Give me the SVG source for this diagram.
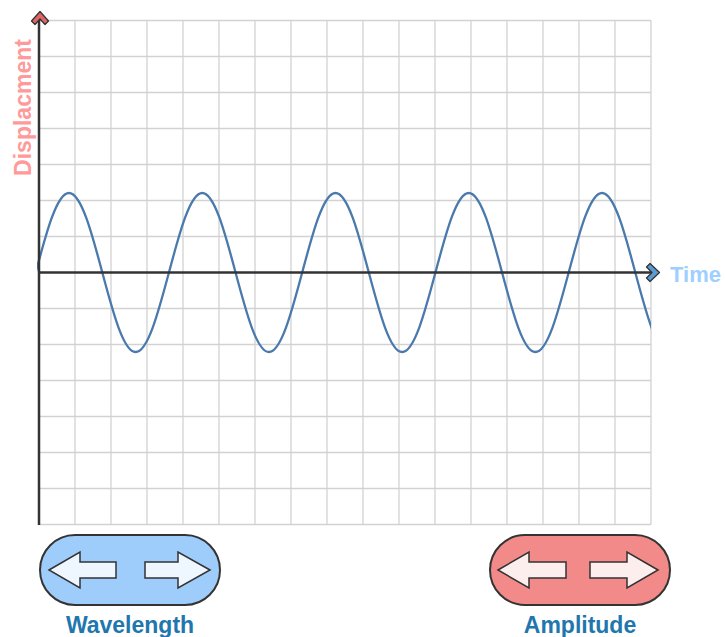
<svg xmlns="http://www.w3.org/2000/svg" width="725" height="637" viewBox="0 0 725 637">
<style>
.grid line{stroke:#d2d2d2;stroke-width:1.3}
.axis{stroke:#333;stroke-width:2.5;fill:none}
.chev{stroke:#333;stroke-width:1.3;stroke-linejoin:round}
.pill{stroke:#333;stroke-width:2}
.arr{stroke:#333;stroke-width:1.5;stroke-linejoin:miter}
.lbl{font-family:"Liberation Sans",Arial,sans-serif;font-weight:bold}
</style>
<defs>
<clipPath id="plot"><rect x="37" y="0" width="614" height="637"/></clipPath>
</defs>
<rect width="725" height="637" fill="#fff"/>
<g id="grid" class="grid">
<line x1="75" y1="20.5" x2="75" y2="524.5"/><line x1="111" y1="20.5" x2="111" y2="524.5"/><line x1="147" y1="20.5" x2="147" y2="524.5"/><line x1="183" y1="20.5" x2="183" y2="524.5"/><line x1="219" y1="20.5" x2="219" y2="524.5"/><line x1="255" y1="20.5" x2="255" y2="524.5"/><line x1="291" y1="20.5" x2="291" y2="524.5"/><line x1="327" y1="20.5" x2="327" y2="524.5"/><line x1="363" y1="20.5" x2="363" y2="524.5"/><line x1="399" y1="20.5" x2="399" y2="524.5"/><line x1="435" y1="20.5" x2="435" y2="524.5"/><line x1="471" y1="20.5" x2="471" y2="524.5"/><line x1="507" y1="20.5" x2="507" y2="524.5"/><line x1="543" y1="20.5" x2="543" y2="524.5"/><line x1="579" y1="20.5" x2="579" y2="524.5"/><line x1="615" y1="20.5" x2="615" y2="524.5"/><line x1="651" y1="20.5" x2="651" y2="524.5"/>
<line x1="39" y1="20.5" x2="651" y2="20.5"/><line x1="39" y1="56.5" x2="651" y2="56.5"/><line x1="39" y1="92.5" x2="651" y2="92.5"/><line x1="39" y1="128.5" x2="651" y2="128.5"/><line x1="39" y1="164.5" x2="651" y2="164.5"/><line x1="39" y1="200.5" x2="651" y2="200.5"/><line x1="39" y1="236.5" x2="651" y2="236.5"/><line x1="39" y1="308.5" x2="651" y2="308.5"/><line x1="39" y1="344.5" x2="651" y2="344.5"/><line x1="39" y1="380.5" x2="651" y2="380.5"/><line x1="39" y1="416.5" x2="651" y2="416.5"/><line x1="39" y1="452.5" x2="651" y2="452.5"/><line x1="39" y1="488.5" x2="651" y2="488.5"/><line x1="39" y1="524.5" x2="651" y2="524.5"/>
</g>
<g id="wave">
<path clip-path="url(#plot)" fill="none" stroke="#4a79ad" stroke-width="2.3" d="M35.69,272.5 c10.864,-40.73 21.256,-79.5 33.3125,-79.5 c12.0565,0 22.4485,38.77 33.3125,79.5 c10.864,40.73 21.256,79.5 33.3125,79.5 c12.0565,0 22.4485,-38.77 33.3125,-79.5 c10.864,-40.73 21.256,-79.5 33.3125,-79.5 c12.0565,0 22.4485,38.77 33.3125,79.5 c10.864,40.73 21.256,79.5 33.3125,79.5 c12.0565,0 22.4485,-38.77 33.3125,-79.5 c10.864,-40.73 21.256,-79.5 33.3125,-79.5 c12.0565,0 22.4485,38.77 33.3125,79.5 c10.864,40.73 21.256,79.5 33.3125,79.5 c12.0565,0 22.4485,-38.77 33.3125,-79.5 c10.864,-40.73 21.256,-79.5 33.3125,-79.5 c12.0565,0 22.4485,38.77 33.3125,79.5 c10.864,40.73 21.256,79.5 33.3125,79.5 c12.0565,0 22.4485,-38.77 33.3125,-79.5 c10.864,-40.73 21.256,-79.5 33.3125,-79.5 c12.0565,0 22.4485,38.77 33.3125,79.5 c10.864,40.73 21.256,79.5 33.3125,79.5 c12.0565,0 22.4485,-38.77 33.3125,-79.5"/>
</g>
<g id="connectors">
<line class="axis" x1="39" y1="525" x2="39" y2="17"/>
<line class="axis" x1="39" y1="272.5" x2="654" y2="272.5"/>
<polygon class="chev" fill="#e06666" points="40,11.5 48.5,21 45,24.5 40,19 35,24.5 31.5,21"/>
<polygon class="chev" fill="#5b9bd5" points="659.5,272.5 650,281.5 646.5,278 652,272.5 646.5,267 650,263.5"/>
</g>
<g id="y-label"><text class="lbl" font-size="23" fill="#ff9a9a" text-anchor="middle" transform="translate(31,107.5) rotate(-90)">Displacment</text></g>
<g id="x-label"><text class="lbl" font-size="22" fill="#9fcfff" x="670" y="282">Time</text></g>
<g id="wavelength">
<rect class="pill" x="40" y="535" width="180" height="70" rx="35" fill="#9fcdfb"/>
<polygon class="arr" fill="#eef6ff" points="49,570 80,552 80,562 116,562 116,578 80,578 80,588"/>
<polygon class="arr" fill="#eef6ff" points="210,570 178,552 178,562 145,562 145,578 178,578 178,588"/>
<text class="lbl" font-size="23" fill="#2176ae" x="130" y="633" text-anchor="middle">Wavelength</text>
</g>
<g id="amplitude">
<rect class="pill" x="490" y="535" width="180" height="70" rx="35" fill="#f28a8a"/>
<polygon class="arr" fill="#fdeeee" points="498,570 529,552 529,562 566,562 566,578 529,578 529,588"/>
<polygon class="arr" fill="#fdeeee" points="658,570 627,552 627,562 590,562 590,578 627,578 627,588"/>
<text class="lbl" font-size="23" fill="#2176ae" x="580" y="633" text-anchor="middle">Amplitude</text>
</g>
</svg>
